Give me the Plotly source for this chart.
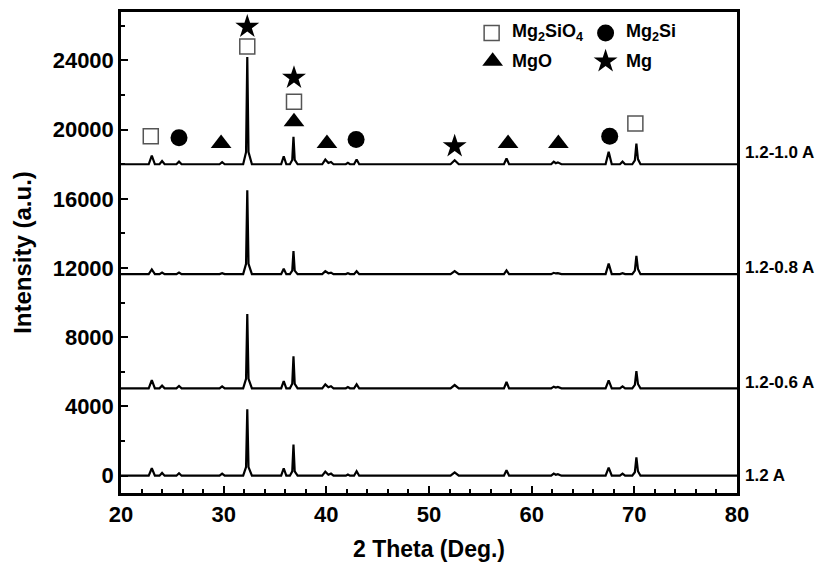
import plotly.graph_objects as go

# 2-theta sampling points (deg) shared by all patterns
two_theta = [20.0,
             22.7, 23.0, 23.3,
             23.75, 24.0, 24.25,
             25.4, 25.65, 25.9,
             29.6, 29.85, 30.1,
             31.9, 32.18, 32.3, 32.42, 32.75,
             35.6, 35.85, 36.1,
             36.45, 36.68, 36.8, 36.92, 37.2,
             39.6, 39.9, 40.2, 40.45, 40.7,
             41.9, 42.1, 42.3,
             42.7, 42.95, 43.2,
             52.1, 52.5, 52.9,
             57.3, 57.55, 57.8,
             61.9, 62.15, 62.35, 62.55, 62.9,
             67.2, 67.5, 67.8,
             68.6, 68.85, 69.1,
             69.8, 70.05, 70.2, 70.35, 70.6,
             80.0]

# intensities above each pattern's own baseline (a.u.)
int_12A = [0, 0, 430, 0, 0, 160, 0, 0, 140, 0, 0, 120, 0,
           0, 500, 3840, 500, 0, 0, 430, 0, 0, 250, 1800, 250, 0,
           0, 235, 60, 120, 0, 0, 70, 0, 0, 255, 0, 0, 196, 0,
           0, 314, 0, 0, 118, 50, 90, 0, 0, 470, 0, 0, 118, 0,
           0, 200, 1060, 260, 0, 0]
int_12_06A = [0, 0, 478, 0, 0, 153, 0, 0, 134, 0, 0, 115, 0,
              0, 550, 4300, 550, 0, 0, 421, 0, 0, 260, 1850, 260, 0,
              0, 230, 60, 120, 0, 0, 70, 0, 0, 230, 0, 0, 190, 0,
              0, 364, 0, 0, 96, 45, 80, 0, 0, 460, 0, 0, 115, 0,
              0, 200, 995, 250, 0, 0]
int_12_08A = [0, 0, 267, 0, 0, 95, 0, 0, 95, 0, 0, 57, 0,
              0, 600, 4850, 600, 0, 0, 305, 0, 0, 200, 1330, 200, 0,
              0, 170, 50, 90, 0, 0, 50, 0, 0, 170, 0, 0, 170, 0,
              0, 210, 0, 0, 76, 40, 60, 0, 0, 610, 0, 0, 57, 0,
              0, 200, 1050, 300, 0, 0]
int_12_10A = [0, 0, 500, 0, 0, 190, 0, 0, 150, 0, 0, 120, 0,
              0, 700, 6200, 700, 0, 0, 464, 0, 0, 250, 1585, 250, 0,
              0, 270, 70, 130, 0, 0, 80, 0, 0, 270, 0, 0, 230, 0,
              0, 330, 0, 0, 150, 60, 110, 0, 0, 715, 0, 0, 150, 0,
              0, 220, 1200, 300, 0, 0]

sample_names = ["1.2 A", "1.2-0.6 A", "1.2-0.8 A", "1.2-1.0 A"]
sample_offsets = [0, 5050, 11650, 18000]
sample_label_y = [0, 5380, 12020, 18670]
patterns = [int_12A, int_12_06A, int_12_08A, int_12_10A]

# phase identification markers (2theta, intensity)
mg2sio4_x = [22.9, 32.3, 36.85, 70.1]
mg2sio4_y = [19620, 24800, 21610, 20360]
mg2si_x = [25.65, 42.9, 67.6]
mg2si_y = [19530, 19430, 19620]
mgo_x = [29.75, 36.85, 40.06, 57.7, 62.6]
mgo_y = [19200, 20450, 19200, 19200, 19200]
mg_x = [32.3, 36.85, 52.5]
mg_y = [25950, 23000, 19040]

# key entries
key_sym_x = [56.1, 67.2, 56.2, 67.2]
key_sym_y = [25590, 25590, 23950, 23950]
key_text_x = [57.9, 69.0, 57.9, 69.0]
key_text = ["Mg<sub>2</sub>SiO<sub>4</sub>", "Mg<sub>2</sub>Si", "MgO", "Mg"]

FONT = "Liberation Sans, Arial, sans-serif"

fig = go.Figure()

for name, off, ys in zip(sample_names, sample_offsets, patterns):
    fig.add_trace(go.Scatter(
        x=two_theta, y=[v + off for v in ys], mode="lines", name=name,
        line=dict(color="black", width=2.2), showlegend=False))

sq = dict(symbol="square-open", size=15, color="#555555", line=dict(width=1.5, color="#555555"))
ci = dict(symbol="circle", size=17, color="black")
tr = dict(symbol="triangle-up", size=18, color="black")
st = dict(symbol="star", size=18, color="black")

fig.add_trace(go.Scatter(x=mg2sio4_x, y=mg2sio4_y, mode="markers", marker=sq, showlegend=False))
fig.add_trace(go.Scatter(x=mg2si_x, y=mg2si_y, mode="markers", marker=ci, showlegend=False))
fig.add_trace(go.Scatter(x=mgo_x, y=mgo_y, mode="markers", marker=tr, showlegend=False))
fig.add_trace(go.Scatter(x=mg_x, y=mg_y, mode="markers", marker=st, showlegend=False))

key_markers = [sq, ci, tr, st]
for i, mk in enumerate(key_markers):
    fig.add_trace(go.Scatter(x=[key_sym_x[i]], y=[key_sym_y[i]], mode="markers",
                             marker=mk, showlegend=False))
    fig.add_annotation(x=key_text_x[i], y=key_sym_y[i], xref="x", yref="y",
                       text="<b>" + key_text[i] + "</b>", showarrow=False,
                       xanchor="left", yanchor="middle",
                       font=dict(family=FONT, size=18, color="black"))

for name, ly in zip(sample_names, sample_label_y):
    fig.add_annotation(x=1, y=ly, xref="paper", yref="y", text="<b>" + name + "</b>",
                       showarrow=False, xanchor="left", yanchor="middle", xshift=6,
                       font=dict(family=FONT, size=17, color="black"))

axis_common = dict(showline=True, linewidth=2.5, linecolor="black", mirror=True,
                   showgrid=False, zeroline=False, ticks="inside", tickwidth=2,
                   ticklen=7, tickcolor="black", automargin=False,
                   tickfont=dict(family=FONT, size=22, color="black", weight="bold"))

fig.update_xaxes(range=[20, 80], dtick=10, tick0=20,
                 minor=dict(dtick=2, ticks="inside", ticklen=4, tickwidth=1.5, tickcolor="black"),
                 title=dict(text="<b>2 Theta (Deg.)</b>", font=dict(family=FONT, size=23, color="black")),
                 **axis_common)
fig.update_yaxes(range=[-1000, 26800], dtick=4000, tick0=0, tickformat="d",
                 minor=dict(dtick=2000, ticks="inside", ticklen=4, tickwidth=1.5, tickcolor="black"),
                 title=dict(text="<b>Intensity (a.u.)</b>", font=dict(family=FONT, size=24, color="black")),
                 **axis_common)

fig.update_layout(width=815, height=562, paper_bgcolor="white", plot_bgcolor="white",
                  margin=dict(l=121, r=78, t=12, b=69), showlegend=False)

fig.write_html("out.html")
